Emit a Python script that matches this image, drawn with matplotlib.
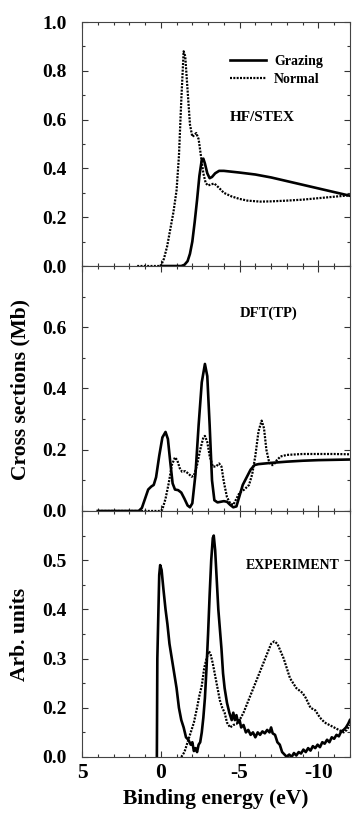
import matplotlib
matplotlib.use("Agg")
import matplotlib.pyplot as plt
from matplotlib.ticker import MultipleLocator, FixedLocator, FixedFormatter, NullFormatter

plt.rcParams['font.family'] = ['Liberation Serif', 'DejaVu Serif']
plt.rcParams['font.weight'] = 'bold'

# ---------------- Data ----------------
# HF/STEX (top panel)
hf_grazing_x = [0.0, -1.3, -1.5, -1.7, -1.85, -2.0, -2.15, -2.3, -2.45, -2.6, -2.7, -2.8, -2.95,
                -3.1, -3.25, -3.45, -3.7, -4.0, -5.0, -6.0, -7.0, -8.0, -9.0, -10.0, -11.0, -12.0]
hf_grazing_y = [0.0, 0.0, 0.005, 0.02, 0.05, 0.10, 0.18, 0.27, 0.37, 0.435, 0.44, 0.42, 0.38,
                0.36, 0.365, 0.38, 0.39, 0.39, 0.383, 0.375, 0.363, 0.348, 0.333, 0.318, 0.303, 0.288]
hf_normal_x = [1.5, 0.0, -0.2, -0.4, -0.6, -0.8, -1.0, -1.15, -1.3, -1.45, -1.55, -1.7, -1.85,
               -2.0, -2.1, -2.25, -2.4, -2.55, -2.7, -2.85, -3.0, -3.2, -3.4, -3.7, -4.0, -4.5,
               -5.0, -5.5, -6.3, -7.0, -8.0, -9.0, -10.0, -11.0, -12.0]
hf_normal_y = [0.0, 0.0, 0.03, 0.08, 0.15, 0.22, 0.31, 0.45, 0.68, 0.88, 0.86, 0.72, 0.58,
               0.53, 0.535, 0.545, 0.52, 0.45, 0.38, 0.34, 0.33, 0.335, 0.338, 0.32, 0.30, 0.285,
               0.275, 0.268, 0.264, 0.265, 0.268, 0.272, 0.278, 0.284, 0.29]

# DFT(TP) (middle panel)
dft_grazing_x = [4.0, 1.4, 1.2, 1.0, 0.8, 0.6, 0.45, 0.3, 0.1, -0.1, -0.3, -0.45, -0.6, -0.75,
                 -0.9, -1.1, -1.3, -1.5, -1.7, -1.85, -2.0, -2.2, -2.4, -2.6, -2.8, -2.95, -3.1,
                 -3.25, -3.4, -3.6, -3.8, -4.0, -4.2, -4.4, -4.6, -4.8, -5.0, -5.2, -5.45, -5.7,
                 -5.95, -6.2, -7.0, -8.0, -9.0, -10.0, -11.0, -12.0]
dft_grazing_y = [0.0, 0.0, 0.01, 0.04, 0.07, 0.08, 0.085, 0.11, 0.18, 0.24, 0.258, 0.235, 0.16, 0.09,
                 0.07, 0.068, 0.06, 0.04, 0.018, 0.012, 0.025, 0.12, 0.28, 0.42, 0.48, 0.44, 0.28,
                 0.10, 0.035, 0.028, 0.03, 0.032, 0.03, 0.02, 0.012, 0.015, 0.05, 0.085, 0.11, 0.135,
                 0.15, 0.153, 0.157, 0.161, 0.164, 0.166, 0.167, 0.168]
dft_normal_x = [4.0, 0.0, -0.1, -0.3, -0.5, -0.7, -0.9, -1.05, -1.2, -1.35, -1.55, -1.75, -1.95,
                -2.1, -2.3, -2.5, -2.7, -2.8, -2.95, -3.1, -3.3, -3.5, -3.7, -3.85, -4.0, -4.2,
                -4.4, -4.6, -4.8, -5.0, -5.3, -5.6, -5.8, -6.0, -6.2, -6.4, -6.55, -6.7, -6.85,
                -7.0, -7.15, -7.35, -7.6, -8.0, -9.0, -10.0, -11.0, -12.0]
dft_normal_y = [0.0, 0.0, 0.005, 0.04, 0.09, 0.15, 0.175, 0.165, 0.14, 0.128, 0.13, 0.122, 0.112,
                0.115, 0.15, 0.20, 0.24, 0.245, 0.225, 0.18, 0.145, 0.145, 0.155, 0.145, 0.095, 0.045,
                0.025, 0.02, 0.04, 0.06, 0.07, 0.085, 0.12, 0.18, 0.26, 0.295, 0.27, 0.20, 0.165,
                0.15, 0.15, 0.165, 0.178, 0.183, 0.186, 0.186, 0.186, 0.185]

# EXPERIMENT (bottom panel)
exp_grazing_x = [0.25, 0.22, 0.10, 0.04, -0.05, -0.17, -0.30, -0.42, -0.55, -0.70, -0.85, -1.00,
                 -1.15, -1.30, -1.45, -1.60, -1.75, -1.90, -2.00, -2.10, -2.20, -2.30, -2.40, -2.50,
                 -2.60, -2.70, -2.80, -2.90, -3.00, -3.10, -3.20, -3.30, -3.36, -3.45, -3.55, -3.65,
                 -3.75, -3.85, -3.95, -4.05, -4.20, -4.35, -4.50, -4.60, -4.70, -4.80, -4.90, -5.00,
                 -5.10, -5.25, -5.40, -5.55, -5.70, -5.85, -6.00, -6.15, -6.30, -6.45, -6.60, -6.75,
                 -6.90, -7.00, -7.10, -7.25, -7.40, -7.55, -7.70, -7.85, -8.00, -8.15, -8.30, -8.45,
                 -8.60, -8.75, -8.90, -9.05, -9.20, -9.35, -9.50, -9.65, -9.80, -9.95, -10.10, -10.25,
                 -10.40, -10.55, -10.70, -10.85, -11.00, -11.15, -11.30, -11.45, -11.60, -11.75,
                 -11.90, -12.00]
exp_grazing_y = [0.10, 0.30, 0.47, 0.49, 0.48, 0.44, 0.40, 0.37, 0.33, 0.30, 0.27, 0.24,
                 0.20, 0.175, 0.16, 0.14, 0.135, 0.125, 0.13, 0.112, 0.118, 0.11, 0.125, 0.13,
                 0.15, 0.18, 0.22, 0.28, 0.35, 0.43, 0.50, 0.545, 0.55, 0.52, 0.46, 0.40,
                 0.36, 0.32, 0.27, 0.24, 0.21, 0.19, 0.175, 0.19, 0.175, 0.185, 0.17, 0.175,
                 0.16, 0.165, 0.15, 0.155, 0.145, 0.15, 0.14, 0.15, 0.145, 0.152, 0.148, 0.155,
                 0.15, 0.16, 0.148, 0.145, 0.13, 0.125, 0.11, 0.105, 0.10, 0.105, 0.10, 0.108,
                 0.103, 0.11, 0.107, 0.115, 0.11, 0.118, 0.113, 0.122, 0.118, 0.125, 0.12, 0.13,
                 0.127, 0.135, 0.13, 0.14, 0.137, 0.145, 0.142, 0.152, 0.155, 0.16,
                 0.168, 0.175]
exp_normal_x = [-1.30, -1.50, -1.70, -1.90, -2.10, -2.30, -2.45, -2.60, -2.75, -2.90, -3.05, -3.15,
                -3.30, -3.45, -3.60, -3.75, -3.90, -4.05, -4.20, -4.40, -4.60, -4.80, -5.00, -5.25,
                -5.50, -5.75, -6.00, -6.25, -6.50, -6.75, -7.00, -7.20, -7.40, -7.60, -7.80, -8.00,
                -8.20, -8.40, -8.60, -8.80, -9.00, -9.20, -9.50, -9.80, -10.10, -10.40, -10.70,
                -11.00, -11.30, -11.60, -11.80, -12.00]
exp_normal_y = [0.10, 0.11, 0.13, 0.15, 0.17, 0.20, 0.225, 0.245, 0.28, 0.30, 0.315, 0.31,
                0.29, 0.265, 0.24, 0.215, 0.20, 0.19, 0.17, 0.16, 0.165, 0.167, 0.175, 0.19,
                0.21, 0.23, 0.25, 0.27, 0.29, 0.31, 0.33, 0.335, 0.33, 0.315, 0.30, 0.28,
                0.26, 0.25, 0.24, 0.235, 0.23, 0.22, 0.20, 0.195, 0.18, 0.17, 0.165,
                0.16, 0.155, 0.15, 0.155, 0.165]

x_ticks = [5, 0, -5, -10]
x_ticklabels = ['5', '0', '-5', '-10']
top_yticks = [0.0, 0.2, 0.4, 0.6, 0.8, 1.0]
mid_yticks = [0.0, 0.2, 0.4, 0.6]
bot_yticks = [0.1, 0.2, 0.3, 0.4, 0.5]
bot_yticklabels = ['0.0', '0.2', '0.3', '0.4', '0.5']

# ---------------- Figure ----------------
fig = plt.figure(figsize=(3.52, 8.13), dpi=100)
L, W = 0.233, 0.761
ax_top = fig.add_axes([L, 0.6728, W, 0.3001])
ax_mid = fig.add_axes([L, 0.3715, W, 0.3014])
ax_bot = fig.add_axes([L, 0.0689, W, 0.3026])

solid_kw = dict(color='black', lw=1.9, solid_joinstyle='round')
dot_kw = dict(color='black', lw=1.6, linestyle=(0, (0.9, 0.6)))

ax_top.plot(hf_grazing_x, hf_grazing_y, label='Grazing', **solid_kw)
ax_top.plot(hf_normal_x, hf_normal_y, label='Normal', **dot_kw)
ax_mid.plot(dft_grazing_x, dft_grazing_y, **solid_kw)
ax_mid.plot(dft_normal_x, dft_normal_y, **dot_kw)
ax_bot.plot(exp_grazing_x, exp_grazing_y, **solid_kw)
ax_bot.plot(exp_normal_x, exp_normal_y, **dot_kw)

for ax in (ax_top, ax_mid, ax_bot):
    ax.set_xlim(5, -12)
    ax.set_xticks(x_ticks)
    ax.xaxis.set_minor_locator(MultipleLocator(1))
    ax.tick_params(which='both', direction='in', top=True, right=True,
                   width=0.8, color='#333333')
    ax.tick_params(which='major', length=4.5, labelsize=14)
    ax.tick_params(axis='y', which='major', pad=11)
    ax.tick_params(which='minor', length=2.5)
    for s in ax.spines.values():
        s.set_linewidth(0.8)
        s.set_color('#444444')

ax_top.set_ylim(0, 1.0)
ax_top.set_yticks(top_yticks)
ax_top.set_yticklabels([f'{v:.1f}' for v in top_yticks])
ax_top.yaxis.set_minor_locator(MultipleLocator(0.1))
ax_top.xaxis.set_major_formatter(NullFormatter())

ax_mid.set_ylim(0, 0.8)
ax_mid.yaxis.set_major_locator(FixedLocator(mid_yticks))
ax_mid.set_yticklabels([f'{v:.1f}' for v in mid_yticks])
ax_mid.yaxis.set_minor_locator(MultipleLocator(0.1))
ax_mid.xaxis.set_major_formatter(NullFormatter())

ax_bot.set_ylim(0.1, 0.6)
ax_bot.yaxis.set_major_locator(FixedLocator(bot_yticks))
ax_bot.yaxis.set_major_formatter(FixedFormatter(bot_yticklabels))
ax_bot.yaxis.set_minor_locator(MultipleLocator(0.05))
ax_bot.set_xticklabels(x_ticklabels)
ax_bot.tick_params(axis='x', which='major', pad=4, labelsize=15.5)

for ax in (ax_top, ax_mid, ax_bot):
    for lab in ax.get_xticklabels() + ax.get_yticklabels():
        lab.set_fontweight('bold')

leg = ax_top.legend(loc='upper left', bbox_to_anchor=(0.553, 0.865), frameon=False,
                    prop={'weight': 'bold', 'size': 10}, handlelength=2.6,
                    handletextpad=0.55, labelspacing=0.33, borderpad=0, borderaxespad=0)

ax_top.text(-6.44, 0.61, 'HF/STEX', ha='center', va='center', fontsize=11, fontweight='bold')
ax_mid.text(-6.85, 0.644, 'DFT(TP)', ha='center', va='center', fontsize=10.5, fontweight='bold')
ax_bot.text(-8.4, 0.49, 'EXPERIMENT', ha='center', va='center', fontsize=10, fontweight='bold')

fig.text(0.057, 0.5215, 'Cross sections (Mb)', rotation=90, ha='center', va='center',
         fontsize=15.5, fontweight='bold')
fig.text(0.057, 0.22, 'Arb. units', rotation=90, ha='center', va='center',
         fontsize=15.5, fontweight='bold')
fig.text(0.614, 0.0175, 'Binding energy (eV)', ha='center', va='center',
         fontsize=15.5, fontweight='bold')

fig.savefig('out.png', dpi=100)
